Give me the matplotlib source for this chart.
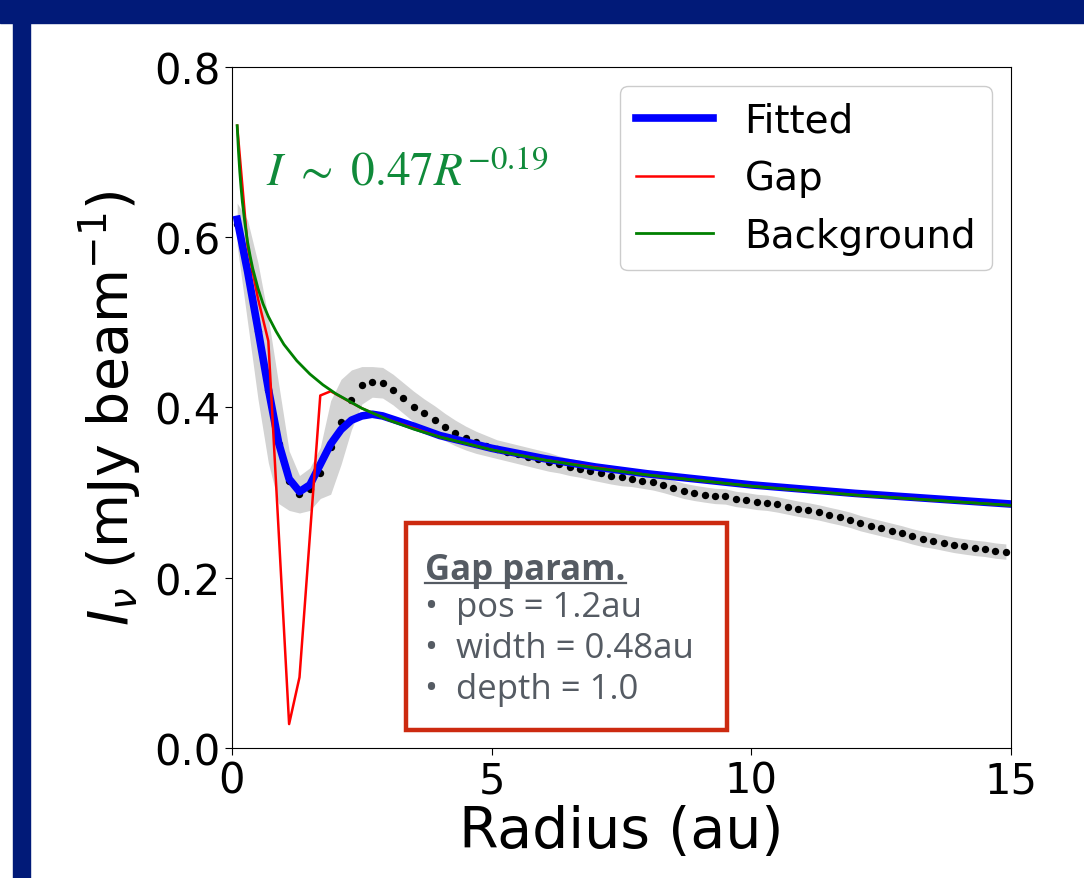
import numpy as np
import matplotlib
matplotlib.use("Agg")
import matplotlib.pyplot as plt
from matplotlib.patches import Rectangle
from matplotlib.lines import Line2D

# observed azimuthal profile, sampled every 0.2 au
r_obs = np.round(np.arange(0.1, 15.0, 0.2), 1)
i_obs = [0.615, 0.560, 0.490, 0.420, 0.357, 0.314, 0.298, 0.304, 0.323, 0.353,
         0.383, 0.409, 0.426, 0.430, 0.429, 0.421, 0.411, 0.401, 0.393, 0.385,
         0.377, 0.370, 0.364, 0.359, 0.355, 0.351, 0.348, 0.345, 0.342, 0.339,
         0.336, 0.333, 0.330, 0.328, 0.325, 0.3225, 0.320, 0.318, 0.316, 0.314,
         0.312, 0.309, 0.3055, 0.302, 0.2996, 0.2977, 0.296, 0.2954, 0.2925, 0.291,
         0.289, 0.288, 0.286, 0.2835, 0.281, 0.279, 0.2766, 0.2737, 0.271, 0.268,
         0.264, 0.261, 0.258, 0.255, 0.252, 0.2485, 0.2455, 0.2435, 0.241, 0.2385,
         0.2367, 0.235, 0.2338, 0.2318, 0.2306]
i_err = [0.025, 0.060, 0.080, 0.085, 0.070, 0.035, 0.022, 0.025, 0.030, 0.055,
         0.050, 0.035, 0.022, 0.018, 0.018, 0.018, 0.018, 0.018, 0.017, 0.017,
         0.016, 0.015, 0.014, 0.013, 0.012, 0.011, 0.011, 0.011, 0.011, 0.011,
         0.011, 0.010, 0.010, 0.010, 0.010, 0.010, 0.010, 0.010, 0.009, 0.009,
         0.009, 0.009, 0.009, 0.009, 0.009, 0.009, 0.009, 0.009, 0.009, 0.009,
         0.009, 0.009, 0.009, 0.009, 0.009, 0.009, 0.009, 0.009, 0.009, 0.009,
         0.009, 0.009, 0.009, 0.009, 0.009, 0.009, 0.009, 0.009, 0.009, 0.009,
         0.009, 0.009, 0.009, 0.009, 0.009]

# fitted model
r_fit = [0.1, 0.3, 0.5, 0.7, 0.9, 1.1, 1.3, 1.5, 1.7, 1.9, 2.1, 2.3, 2.5, 2.7,
         2.9, 3.1, 3.5, 4, 5, 6, 7, 8, 10, 12, 15]
i_fit = [0.621, 0.560, 0.492, 0.422, 0.358, 0.316, 0.301, 0.309, 0.333, 0.357,
         0.374, 0.385, 0.390, 0.392, 0.390, 0.386, 0.378, 0.367, 0.352, 0.340,
         0.330, 0.322, 0.309, 0.299, 0.2865]

# gap component
r_gap = [0.1, 0.3, 0.5, 0.7, 0.9, 1.1, 1.3, 1.5, 1.7, 1.9, 2.5, 3, 4, 5, 6, 8, 10, 12, 15]
i_gap = [0.731, 0.590, 0.528, 0.478, 0.253, 0.028, 0.083, 0.249, 0.414, 0.419,
         0.399, 0.3856, 0.3653, 0.3502, 0.3384, 0.3207, 0.3075, 0.2971, 0.2849]

# background power law
r_bg = [0.1, 0.125, 0.15, 0.175, 0.2, 0.25, 0.3, 0.35, 0.4, 0.5, 0.6, 0.7, 0.85,
        1.0, 1.25, 1.5, 1.75, 2, 2.5, 3, 3.5, 4, 5, 6, 7, 8, 10, 12, 15]
i_bg = [0.731, 0.701, 0.677, 0.658, 0.6415, 0.616, 0.5944, 0.5778, 0.5631, 0.540,
        0.5214, 0.5069, 0.4893, 0.474, 0.4547, 0.4392, 0.4266, 0.4161, 0.399,
        0.3856, 0.3745, 0.3653, 0.3502, 0.3384, 0.3288, 0.3207, 0.3075, 0.2971, 0.2849]

gap_lines = ["\u2022  pos = 1.2au", "\u2022  width = 0.48au", "\u2022  depth = 1.0"]

navy = '#011a78'

fig = plt.figure(figsize=(10.84, 8.79), dpi=100)
fig.patches.append(Rectangle((0, 0.9727), 1, 0.0273, transform=fig.transFigure,
                             color=navy, zorder=0))
fig.patches.append(Rectangle((0.012, 0), 0.0157, 0.9727, transform=fig.transFigure,
                             color=navy, zorder=0))

ax = fig.add_axes([0.214, 0.148, 0.7187, 0.7747])

lo = np.array(i_obs) - np.array(i_err)
hi = np.array(i_obs) + np.array(i_err)
ax.fill_between(r_obs, lo, hi, color='lightgray', lw=0, zorder=1)
ax.plot(r_obs, i_obs, 'o', color='k', ms=5.3, mew=0, zorder=2)
ax.plot(r_fit, i_fit, color='blue', lw=5.5, label='Fitted', zorder=3)
ax.plot(r_gap, i_gap, color='red', lw=1.8, label='Gap', zorder=4)
ax.plot(r_bg, i_bg, color='green', lw=2, label='Background', zorder=5)

ax.text(0.65, 0.662, r'$I\ \sim\ 0.47R^{-0.19}$', color='#108a3a', fontsize=34,
        ha='left', va='baseline', math_fontfamily='stix')

ax.set_xlim(0, 15)
ax.set_ylim(0, 0.8)
ax.set_xticks([0, 5, 10, 15])
ax.set_yticks([0.0, 0.2, 0.4, 0.6, 0.8])
ax.set_yticklabels(['0.0', '0.2', '0.4', '0.6', '0.8'])
ax.tick_params(labelsize=30, length=5)
ax.set_xlabel('Radius (au)', fontsize=41, labelpad=2)
ax.set_ylabel(r'$I_\nu$ (mJy beam$^{-1}$)', fontsize=40, labelpad=8)

ax.legend(loc='upper right', fontsize=28, handlelength=2.0, framealpha=1,
          edgecolor='#cccccc')

# gap parameter box
ax.add_patch(Rectangle((0.224, 0.027), 0.411, 0.303, transform=ax.transAxes,
                       fill=True, facecolor='white', edgecolor='#cc2a10', lw=3.2,
                       zorder=6))
txt_col = '#555b63'
head = ax.text(0.248, 0.248, 'Gap param.', transform=ax.transAxes, fontsize=25,
               family='Open Sans', weight='bold', color=txt_col, va='baseline',
               zorder=7)
for k, line in enumerate(gap_lines):
    ax.text(0.248, 0.194 - k * 0.06, line, transform=ax.transAxes, fontsize=25,
            family='Open Sans', color=txt_col, va='baseline', zorder=7)

# underline the heading
fig.canvas.draw()
bb = head.get_window_extent()
y0 = ax.transAxes.transform((0.248, 0.248))[1] - 4
p0 = fig.transFigure.inverted().transform((bb.x0, y0))
p1 = fig.transFigure.inverted().transform((bb.x1, y0))
fig.add_artist(Line2D([p0[0], p1[0]], [p0[1], p1[1]], color=txt_col, lw=1.6,
                      zorder=8))

fig.savefig('out.png', dpi=100)
